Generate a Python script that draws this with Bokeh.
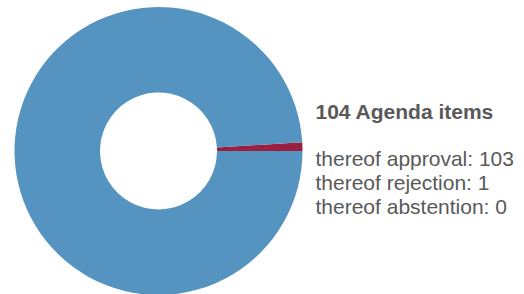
import numpy as np
from bokeh.plotting import figure
from bokeh.models import ColumnDataSource, Range1d
from bokeh.core.properties import value
from bokeh.embed import file_html
from bokeh.resources import INLINE

# Data
categories = ["rejection", "approval", "abstention"]
counts = [1, 103, 0]
colors = ["#9b1f3e", "#5593c1", "#3a6f99"]
total_items = 104
title_text = f"{total_items} Agenda items"
legend_lines = ["thereof approval: 103", "thereof rejection: 1", "thereof abstention: 0"]

W, H = 524, 294
p = figure(width=W, height=H, output_backend="svg", toolbar_location=None,
           x_range=Range1d(0, W), y_range=Range1d(0, H), min_border=0)
p.axis.visible = False
p.grid.visible = False
p.outline_line_color = None
p.background_fill_color = "white"

vals = np.array(counts, dtype=float)
frac = vals / vals.sum()
ends = np.cumsum(frac) * 2 * np.pi
starts = ends - frac * 2 * np.pi
keep = vals > 0
src = ColumnDataSource(dict(cat=[c for c, k in zip(categories, keep) if k],
                            start=starts[keep], end=ends[keep],
                            color=[c for c, k in zip(colors, keep) if k]))
p.annular_wedge(x=158, y=H - 150.5, inner_radius=58.5, outer_radius=144,
                start_angle="start", end_angle="end", color="color",
                line_color=None, source=src)

p.text(x=[315], y=[H - 111], text=[title_text], text_font=value("Liberation Sans"),
       text_font_size="21px", text_font_style="bold", text_color="#595959",
       text_baseline="alphabetic")
p.text(x=[315, 315, 315], y=[H - 158, H - 182, H - 206], text=legend_lines,
       text_font=value("Liberation Sans"), text_font_size="21px",
       text_color="#595959", text_baseline="alphabetic")

open("out.html", "w").write(file_html(p, INLINE))
